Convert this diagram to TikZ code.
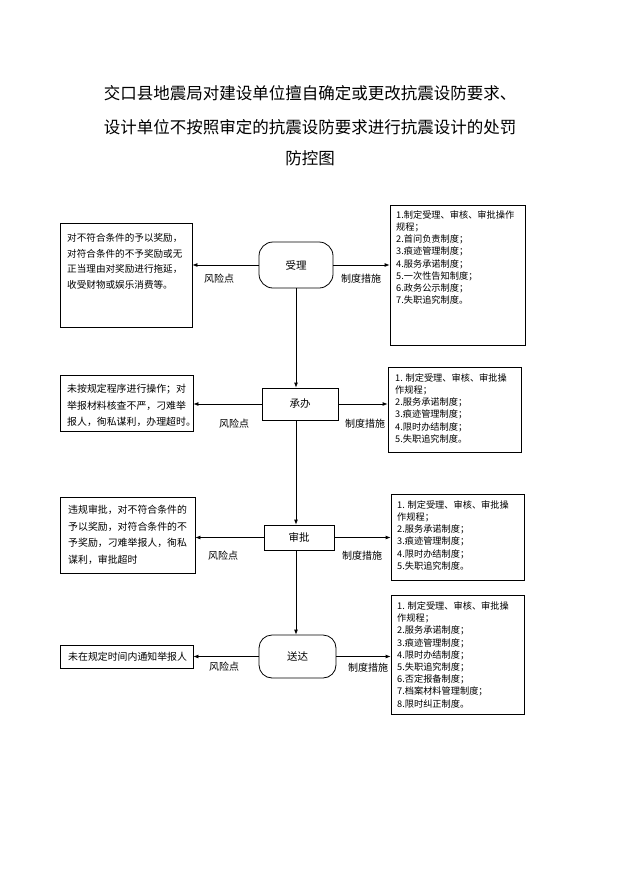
\documentclass[tikz,border=0pt]{standalone}
\usepackage{fontspec}
\setmainfont{Noto Sans CJK SC}
\usetikzlibrary{arrows.meta}
\begin{document}
\begin{tikzpicture}[x=1pt,y=-1pt,
  box/.style={draw, line width=0.8pt, inner sep=0pt},
  txt/.style={anchor=north west, inner sep=0pt, align=left},
  ltxta/.style={txt, font=\fontsize{9.6}{15.5}\selectfont},
  ltxtb/.style={txt, font=\fontsize{9.9}{16.5}\selectfont},
  rtxt/.style={txt, font=\fontsize{9.2}{12.2}\selectfont},
  proc/.style={draw, line width=0.8pt, inner sep=0pt, font=\fontsize{10.5}{12}\selectfont},
  lbl/.style={inner sep=0pt, font=\fontsize{10}{12}\selectfont},
  ttl/.style={inner sep=0pt, font=\fontsize{16.5}{20}\selectfont},
  arr/.style={line width=0.8pt, -{Latex[length=5pt,width=4pt]}}]
\useasboundingbox (0,0) rectangle (621,878);

% title
\node[ttl] (t1) at (310,93) {交口县地震局对建设单位擅自确定或更改抗震设防要求、};
\node[ttl] (t2) at (310,127) {设计单位不按照审定的抗震设防要求进行抗震设计的处罚};
\node[ttl] (t3) at (310,158) {防控图};

% process nodes
\node[proc, rounded corners=14pt, minimum width=74pt, minimum height=46pt] (n1) at (296,265) {受理};
\node[proc, minimum width=76pt, minimum height=32pt] (n2) at (300,404) {承办};
\node[proc, minimum width=70pt, minimum height=25pt] (n3) at (299,537.5) {审批};
\node[proc, rounded corners=13pt, minimum width=77pt, minimum height=43pt] (n4) at (297.5,656.5) {送达};

% left boxes
\node[box, minimum width=132pt, minimum height=104pt] (b1) at (126,275) {};
\node[ltxta] (b1t) at (67,233.2) {对不符合条件的予以奖励，\\对符合条件的不予奖励或无\\正当理由对奖励进行拖延，\\收受财物或娱乐消费等。};
\node[box, minimum width=133pt, minimum height=56pt] (b2) at (126.5,403) {};
\node[ltxtb] (b2t) at (67,384) {未按规定程序进行操作；对\\举报材料核查不严，刁难举\\报人，徇私谋利，办理超时。};
\node[box, minimum width=135pt, minimum height=76pt] (b3) at (127.5,535) {};
\node[ltxtb] (b3t) at (68,505) {违规审批，对不符合条件的\\予以奖励，对符合条件的不\\予奖励，刁难举报人，徇私\\谋利，审批超时};
\node[box, minimum width=133pt, minimum height=23pt] (b4) at (126.5,656.5) {};
\node[ltxtb] (b4t) at (68,652) {未在规定时间内通知举报人};

% right boxes
\node[box, minimum width=135pt, minimum height=140pt] (r1) at (457.5,275) {};
\node[rtxt] (r1t) at (396,210.4) {1.制定受理、审核、审批操作\\规程；\\2.首问负责制度；\\3.痕迹管理制度；\\4.服务承诺制度；\\5.一次性告知制度；\\6.政务公示制度；\\7.失职追究制度。};
\node[box, minimum width=133pt, minimum height=85pt] (r2) at (454.5,409.5) {};
\node[rtxt] (r2t) at (395,373.4) {1. 制定受理、审核、审批操\\作规程；\\2.服务承诺制度；\\3.痕迹管理制度；\\4.限时办结制度；\\5.失职追究制度。};
\node[box, minimum width=133pt, minimum height=86pt] (r3) at (457.5,537) {};
\node[rtxt] (r3t) at (397,500.4) {1. 制定受理、审核、审批操\\作规程；\\2.服务承诺制度；\\3.痕迹管理制度；\\4.限时办结制度；\\5.失职追究制度。};
\node[box, minimum width=133pt, minimum height=119pt] (r4) at (457.5,654.5) {};
\node[rtxt] (r4t) at (397,601.4) {1. 制定受理、审核、审批操\\作规程；\\2.服务承诺制度；\\3.痕迹管理制度；\\4.限时办结制度；\\5.失职追究制度；\\6.否定报备制度；\\7.档案材料管理制度；\\8.限时纠正制度。};

% vertical flow
\draw[arr] (n1.south) -- (n1.south |- n2.north);
\draw[arr] (n2.south -| n1.south) -- (n3.north -| n1.south);
\draw[arr] (n3.south -| n1.south) -- (n4.north -| n1.south);

% side arrows
\draw[arr] (n1.west) -- (n1.west -| b1.east);
\draw[arr] (n1.east) -- (n1.east -| r1.west);
\draw[arr] (n2.west) -- (n2.west -| b2.east);
\draw[arr] (n2.east) -- (n2.east -| r2.west);
\draw[arr] (n3.west) -- (n3.west -| b3.east);
\draw[arr] (n3.east) -- (n3.east -| r3.west);
\draw[arr] (n4.west) -- (n4.west -| b4.east);
\draw[arr] (n4.east) -- (n4.east -| r4.west);

% labels
\node[lbl] (l1) at (219,279) {风险点};
\node[lbl] (m1) at (361,279) {制度措施};
\node[lbl] (l2) at (234,424) {风险点};
\node[lbl] (m2) at (365,424) {制度措施};
\node[lbl] (l3) at (223,556) {风险点};
\node[lbl] (m3) at (362,556) {制度措施};
\node[lbl] (l4) at (224,667) {风险点};
\node[lbl] (m4) at (368,668) {制度措施};
\end{tikzpicture}
\end{document}
